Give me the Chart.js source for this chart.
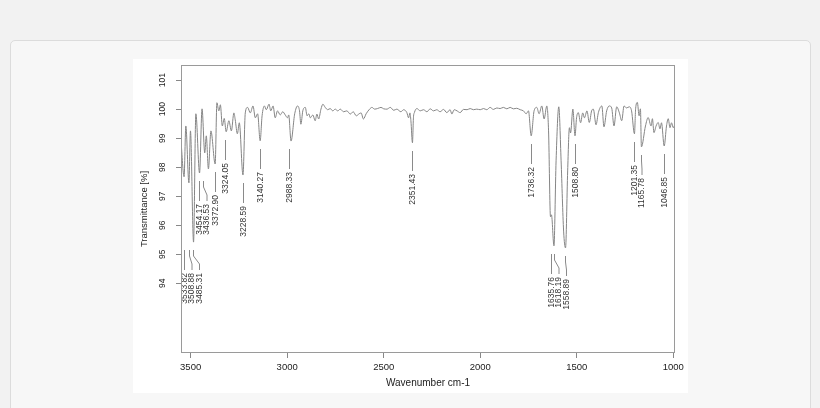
<!DOCTYPE html>
<html><head><meta charset="utf-8">
<script src="https://cdn.jsdelivr.net/npm/chart.js@4.4.1/dist/chart.umd.min.js"></script>
<style>
html,body{margin:0;padding:0;background:#f2f2f2;width:820px;height:408px;overflow:hidden;font-family:"Liberation Sans",Arial,sans-serif}
#card{position:absolute;left:10px;top:40px;width:799px;height:390px;background:#f7f7f7;border:1px solid #dcdcdc;border-radius:5px}
#wrap{position:absolute;left:133px;top:59px;width:555px;height:334px;background:#fff}
</style></head><body>
<div id="card"></div>
<div id="wrap"><canvas id="c" width="555" height="334"></canvas></div>
<script>
const wavenumbers = [3550,3534,3525,3509,3501,3485,3473,3454,3441,3427,3419,3408,3395,3373,3364,3354,3346,3336,3326,3316,3302,3289,3276,3269,3258,3248,3229,3217,3205,3191,3177,3165,3153,3140,3130,3118,3108,3094,3085,3073,3062,3050,3036,3023,3010,2998,2992,2980,2961,2946,2936,2929,2919,2906,2897,2888,2880,2867,2855,2846,2837,2825,2815,2803,2790,2777,2764,2751,2738,2725,2708,2691,2673,2658,2642,2627,2617,2605,2591,2573,2561,2547,2532,2514,2500,2483,2466,2448,2432,2411,2397,2380,2371,2364,2359,2351,2346,2341,2328,2311,2294,2276,2259,2242,2225,2208,2190,2173,2156,2147,2135,2120,2104,2087,2068,2052,2035,2018,2000,1983,1966,1949,1932,1914,1897,1880,1862,1845,1828,1811,1793,1776,1762,1750,1736,1721,1707,1695,1681,1669,1655,1646,1636,1631,1618,1607,1593,1581,1568,1558,1547,1538,1532,1520,1509,1501,1492,1480,1469,1460,1447,1435,1423,1414,1400,1388,1370,1359,1345,1331,1319,1307,1293,1279,1267,1255,1242,1228,1216,1201,1195,1186,1177,1170,1165,1144,1130,1115,1108,1100,1089,1078,1069,1061,1047,1035,1026,1017,1009,1000,991];
const transmittance = [98.90,97.67,99.42,97.46,99.25,95.42,99.84,97.80,100.01,98.49,99.08,97.94,99.25,98.11,100.22,99.94,100.15,99.42,99.68,99.22,99.60,99.25,99.87,99.63,99.15,99.53,97.73,99.87,100.06,99.87,100.11,99.70,99.84,98.91,99.77,100.11,99.98,100.17,99.94,100.11,99.70,99.94,99.80,99.91,99.80,99.70,99.80,98.90,99.84,100.11,99.94,99.48,99.94,100.06,99.77,99.84,99.70,99.80,99.60,99.83,99.66,100.00,100.17,100.06,99.98,100.02,99.94,100.00,99.94,100.00,99.91,99.94,99.83,99.91,99.77,99.84,99.87,99.66,99.84,100.00,100.06,100.00,100.02,100.06,100.01,100.00,100.06,99.96,100.00,99.91,99.98,99.88,99.70,99.87,99.60,98.84,99.70,99.88,100.02,99.94,99.98,99.91,100.01,99.94,99.98,99.91,99.99,99.88,99.98,99.83,99.98,99.94,99.88,99.99,99.98,100.02,99.98,100.00,99.98,100.02,99.98,100.06,99.99,100.04,100.02,100.06,100.01,100.06,100.01,100.03,99.98,99.94,99.84,99.94,99.08,99.94,100.06,99.84,100.11,99.66,100.11,99.25,96.29,96.36,95.29,98.22,100.08,98.22,95.80,95.22,97.87,99.36,99.18,100.00,99.08,99.70,99.88,99.53,99.87,99.70,99.94,99.54,99.94,100.00,99.46,99.88,100.11,99.39,99.94,100.11,100.04,99.42,100.08,99.87,99.60,100.11,100.04,100.08,99.94,99.15,100.01,100.23,99.77,100.01,98.70,99.42,99.71,99.42,99.67,99.19,99.42,99.54,99.32,99.53,98.73,99.42,99.67,99.36,99.53,99.36,99.49];
const xTicks = [3500,3000,2500,2000,1500,1000];
const yTicks = [94,95,96,97,98,99,100,101];
const peakWavenumbers = [3533.82,3508.88,3485.31,3454.17,3436.53,3372.90,3324.05,3228.59,3140.27,2988.33,2351.43,1736.32,1635.76,1618.19,1558.89,1508.80,1201.35,1165.78,1046.85];
const peakLabels = peakWavenumbers.map(v => v.toFixed(2));
const xTitle = 'Wavenumber cm-1';
const yTitle = 'Transmittance [%]';

const FONT = '"Liberation Sans", Arial, Helvetica, sans-serif';

const boxPlugin = {
  id: 'box',
  afterDraw(chart) {
    const a = chart.chartArea, ctx = chart.ctx;
    ctx.save();
    ctx.strokeStyle = '#9a9a9a'; ctx.lineWidth = 1;
    ctx.strokeRect(Math.round(a.left) + 0.5, Math.round(a.top) + 0.5, Math.round(a.right - a.left) - 1, Math.round(a.bottom - a.top) - 1);
    const ys = chart.scales.y;
    ctx.fillStyle = '#222';
    ctx.font = '8.5px ' + FONT;
    yTicks.forEach(v => {
      ctx.save();
      ctx.translate(30, ys.getPixelForValue(v));
      ctx.rotate(-Math.PI / 2);
      ctx.textAlign = 'center'; ctx.textBaseline = 'middle';
      ctx.fillText(String(v), 0, 0);
      ctx.restore();
    });
    ctx.restore();
  }
};

const peakPlugin = {
  id: 'peaks',
  afterDatasetsDraw(chart) {
    const xs = chart.scales.x, ys = chart.scales.y, ctx = chart.ctx;
    const items = peakWavenumbers.map((w, i) => {
      let m = Infinity;
      wavenumbers.forEach((v, j) => { if (Math.abs(v - w) <= 10) m = Math.min(m, transmittance[j]); });
      return { label: peakLabels[i], px: xs.getPixelForValue(w), py: ys.getPixelForValue(m) };
    }).sort((a, b) => a.px - b.px);
    const clusters = []; let cur = [];
    items.forEach((it, i) => {
      if (i > 0 && it.px - items[i - 1].px >= 6) { clusters.push(cur); cur = []; }
      cur.push(it);
    });
    clusters.push(cur);
    ctx.save();
    ctx.strokeStyle = '#8a8a8a'; ctx.lineWidth = 1;
    ctx.fillStyle = '#333';
    ctx.font = '8.5px ' + FONT;
    let prevX = -Infinity, prevBase = -Infinity;
    clusters.forEach(cl => {
      const base = Math.round(Math.max(...cl.map(c => c.py)) + 8);
      cl.forEach(c => {
        const x0 = Math.round(c.px) + 0.5;
        const lx = Math.abs(base - prevBase) < 40 ? Math.max(x0, prevX + 7.5) : x0;
        prevX = lx; prevBase = base;
        ctx.beginPath();
        ctx.moveTo(x0, base); ctx.lineTo(x0, base + 6);
        ctx.lineTo(lx, base + 14); ctx.lineTo(lx, base + 20);
        ctx.stroke();
        ctx.save();
        ctx.translate(lx, base + 23);
        ctx.rotate(-Math.PI / 2);
        ctx.textAlign = 'right'; ctx.textBaseline = 'middle';
        ctx.fillText(c.label, 0, 0);
        ctx.restore();
      });
    });
    ctx.restore();
  }
};

new Chart(document.getElementById('c'), {
  type: 'line',
  data: {
    datasets: [{
      data: wavenumbers.map((w, i) => ({ x: w, y: transmittance[i] })),
      borderColor: '#858585',
      borderWidth: 1,
      pointRadius: 0,
      cubicInterpolationMode: 'monotone',
      fill: false
    }]
  },
  options: {
    responsive: false,
    animation: false,
    devicePixelRatio: 1,
    layout: { padding: { top: 6, right: 13, left: 0, bottom: 0 } },
    plugins: { legend: { display: false }, tooltip: { enabled: false } },
    scales: {
      x: {
        type: 'linear', reverse: true, min: 991, max: 3550,
        afterBuildTicks: s => { s.ticks = xTicks.map(v => ({ value: v })); },
        afterFit: s => { s.height = 40; },
        grid: { display: true, drawOnChartArea: false, drawTicks: true, tickLength: 5, color: '#888' },
        border: { display: false },
        ticks: { autoSkip: false, maxRotation: 0, padding: 4, color: '#222', font: { family: FONT, size: 9.5 }, callback: v => String(v) },
        title: { display: true, text: xTitle, color: '#222', font: { family: FONT, size: 10 }, padding: { top: 0, bottom: 4 } }
      },
      y: {
        type: 'linear', min: 91.6, max: 101.52,
        afterBuildTicks: s => { s.ticks = yTicks.map(v => ({ value: v })); },
        afterFit: s => { s.width = 48; },
        grid: { display: true, drawOnChartArea: false, drawTicks: true, tickLength: 5, color: '#888' },
        border: { display: false },
        ticks: { display: false },
        title: { display: true, text: yTitle, color: '#222', font: { family: FONT, size: 9.5 }, padding: { top: 6, bottom: 0 } }
      }
    }
  },
  plugins: [peakPlugin, boxPlugin]
});
</script>
</body></html>
